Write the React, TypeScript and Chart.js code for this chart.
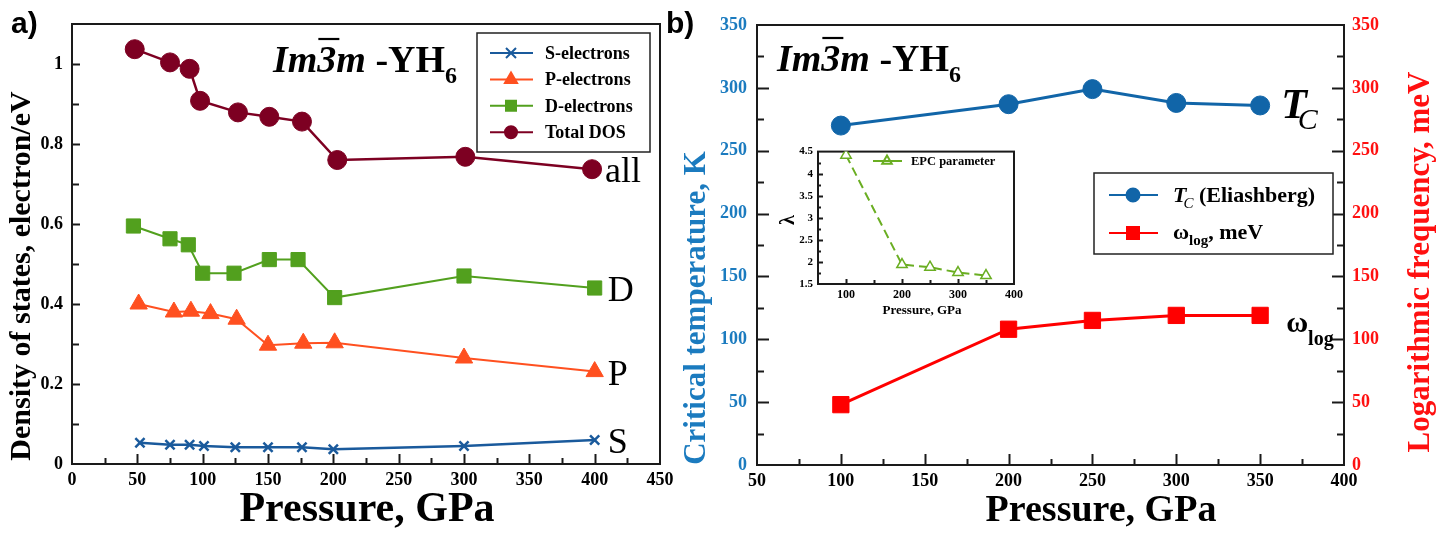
import React, { useEffect, useRef } from "react";
import { Chart, registerables } from "chart.js";

Chart.register(...registerables);

// ---------- Data: panel a (density of states) ----------
const sPressure = [52, 75, 90, 101, 125, 150, 176, 200, 300, 400];
const sElectrons = [0.053, 0.048, 0.048, 0.045, 0.042, 0.042, 0.042, 0.037, 0.045, 0.06];
const pPressure = [51, 78, 91, 106, 126, 150, 177, 201, 300, 400];
const pElectrons = [0.4, 0.38, 0.382, 0.376, 0.362, 0.297, 0.302, 0.303, 0.265, 0.231];
const dPressure = [47, 75, 89, 100, 124, 151, 173, 201, 300, 400];
const dElectrons = [0.595, 0.563, 0.548, 0.477, 0.477, 0.511, 0.511, 0.416, 0.47, 0.44];
const totalPressure = [48, 75, 90, 98, 127, 151, 176, 203, 301, 398];
const totalDos = [1.037, 1.004, 0.988, 0.908, 0.879, 0.868, 0.856, 0.76, 0.768, 0.737];

// ---------- Data: panel b ----------
const tcPressure = [100, 200, 250, 300, 350];
const tcEliashberg = [270, 287, 299, 288, 286];
const omegaPressure = [100, 200, 250, 300, 350];
const omegaLog = [48, 108, 115, 119, 119];

// ---------- Data: inset ----------
const epcPressure = [100, 200, 250, 300, 350];
const epcLambda = [4.42, 1.94, 1.88, 1.76, 1.69];

const legendA = ["S-electrons", "P-electrons", "D-electrons", "Total DOS"];

const SERIF = '"Liberation Serif", "Times New Roman", Times, serif';
const SANS = '"Liberation Sans", Arial, sans-serif';
const f = (size: number, weight = "bold", style = "normal") =>
  `${style} ${weight} ${size}px ${SERIF}`;

const C_S = "#1a5a9c";
const C_P = "#ff5020";
const C_D = "#52a01e";
const C_T = "#7d0022";
const C_TC = "#1165a8";
const C_W = "#ff0000";
const C_BLUE_TXT = "#1b7bbf";
const C_RED_TXT = "#ff1010";
const C_EPC = "#6aae22";
const AXIS = "#1a1a1a";

const zip = (xs: number[], ys: number[]) => xs.map((x, i) => ({ x, y: ys[i] }));

type Run = { t: string; font: string; dy?: number; dx?: number; over?: [number, number, number] };

function drawRich(ctx: CanvasRenderingContext2D, runs: Run[], x: number, y: number, color: string, align: "left" | "center" = "left") {
  ctx.save();
  ctx.fillStyle = color;
  ctx.strokeStyle = color;
  ctx.textBaseline = "alphabetic";
  ctx.textAlign = "left";
  let total = 0;
  for (const r of runs) {
    ctx.font = r.font;
    total += ctx.measureText(r.t).width + (r.dx || 0);
  }
  let cx = align === "center" ? x - total / 2 : x;
  for (const r of runs) {
    ctx.font = r.font;
    cx += r.dx || 0;
    ctx.fillText(r.t, cx, y + (r.dy || 0));
    const w = ctx.measureText(r.t).width;
    if (r.over) {
      ctx.lineWidth = 2.2;
      ctx.beginPath();
      ctx.moveTo(cx + r.over[0], y + r.over[2]);
      ctx.lineTo(cx + w + r.over[1], y + r.over[2]);
      ctx.stroke();
    }
    cx += w;
  }
  ctx.restore();
}

function drawRotated(ctx: CanvasRenderingContext2D, text: string, x: number, y: number, font: string, color: string) {
  ctx.save();
  ctx.translate(x, y);
  ctx.rotate(-Math.PI / 2);
  ctx.font = font;
  ctx.fillStyle = color;
  ctx.textAlign = "center";
  ctx.textBaseline = "middle";
  ctx.fillText(text, 0, 0);
  ctx.restore();
}

function drawMarker(ctx: CanvasRenderingContext2D, style: string, x: number, y: number, r: number, color: string, fill = true) {
  ctx.save();
  ctx.fillStyle = color;
  ctx.strokeStyle = color;
  ctx.lineWidth = 2;
  ctx.beginPath();
  if (style === "circle") {
    ctx.arc(x, y, r, 0, Math.PI * 2);
  } else if (style === "rect") {
    ctx.rect(x - r, y - r, 2 * r, 2 * r);
  } else if (style === "triangle") {
    ctx.moveTo(x, y - r);
    ctx.lineTo(x + r * 0.866, y + r * 0.5);
    ctx.lineTo(x - r * 0.866, y + r * 0.5);
    ctx.closePath();
  } else if (style === "crossRot") {
    ctx.moveTo(x - r, y - r);
    ctx.lineTo(x + r, y + r);
    ctx.moveTo(x + r, y - r);
    ctx.lineTo(x - r, y + r);
    ctx.stroke();
    ctx.restore();
    return;
  }
  if (fill) ctx.fill();
  ctx.stroke();
  ctx.restore();
}

type TickSpec = { scale: string; side: "left" | "right" | "bottom"; minor: number; major: number; majorLen: number; minorLen: number };

function framePlugin(id: string, ticks: TickSpec[], lw: number) {
  return {
    id,
    beforeDatasetsDraw(chart: any) {
      const { ctx, chartArea: a } = chart;
      ctx.save();
      ctx.strokeStyle = AXIS;
      ctx.lineWidth = lw;
      ctx.strokeRect(a.left, a.top, a.right - a.left, a.bottom - a.top);
      for (const t of ticks) {
        const s = chart.scales[t.scale];
        const n = Math.round((s.max - s.min) / t.minor);
        for (let i = 1; i < n; i++) {
          const v = s.min + i * t.minor;
          const q = v / t.major;
          const isMajor = Math.abs(q - Math.round(q)) < 1e-6;
          const len = isMajor ? t.majorLen : t.minorLen;
          const p = Math.round(s.getPixelForValue(v)) + 0.5;
          ctx.beginPath();
          if (t.side === "bottom") {
            ctx.moveTo(p, a.bottom);
            ctx.lineTo(p, a.bottom - len);
          } else if (t.side === "left") {
            ctx.moveTo(a.left, p);
            ctx.lineTo(a.left + len, p);
          } else {
            ctx.moveTo(a.right, p);
            ctx.lineTo(a.right - len, p);
          }
          ctx.stroke();
        }
      }
      ctx.restore();
    },
  };
}

const tickFont = (size: number) => ({ family: SERIF, size, weight: "bold" as const });
const fmt = (v: any) => String(Math.round(Number(v) * 100) / 100);

export default function App() {
  const refA = useRef<HTMLCanvasElement>(null);
  const refB = useRef<HTMLCanvasElement>(null);
  const refI = useRef<HTMLCanvasElement>(null);

  useEffect(() => {
    const charts: Chart[] = [];

    // ---------------- Panel a ----------------
    const OA = 0; // canvas page offset x
    const annotA = {
      id: "annotA",
      afterDraw(chart: any) {
        const ctx = chart.ctx as CanvasRenderingContext2D;
        const xs = chart.scales.x;
        const ys = chart.scales.y;
        ctx.save();
        ctx.font = `bold 30px ${SANS}`;
        ctx.fillStyle = "#000";
        ctx.fillText("a)", 11 - OA, 33);
        ctx.restore();
        drawRich(ctx, [
          { t: "Im", font: f(38, "bold", "italic") },
          { t: "3", font: f(38, "bold", "italic"), over: [1, 3, -33] },
          { t: "m", font: f(38, "bold", "italic") },
          { t: " -YH", font: f(38) },
          { t: "6", font: f(24), dy: 11 },
        ], 273 - OA, 72, "#000");
        const lab = (txt: string, px: number, py: number) => {
          ctx.save();
          ctx.font = f(36, "normal");
          ctx.fillStyle = "#000";
          ctx.fillText(txt, xs.getPixelForValue(px) + 13, ys.getPixelForValue(py) + 13);
          ctx.restore();
        };
        lab("all", totalPressure[totalPressure.length - 1], totalDos[totalDos.length - 1]);
        lab("D", dPressure[dPressure.length - 1], dElectrons[dElectrons.length - 1]);
        lab("P", pPressure[pPressure.length - 1], pElectrons[pElectrons.length - 1]);
        lab("S", sPressure[sPressure.length - 1], sElectrons[sElectrons.length - 1]);
        drawRich(ctx, [{ t: "Pressure, GPa", font: f(42) }], 367 - OA, 521, "#000", "center");
        drawRotated(ctx, "Density of states, electron/eV", 22 - OA, 276, f(30), "#000");
        // legend
        ctx.save();
        ctx.fillStyle = "#fff";
        ctx.strokeStyle = "#222";
        ctx.lineWidth = 1.5;
        ctx.fillRect(477, 33, 173, 119);
        ctx.strokeRect(477, 33, 173, 119);
        const styles = ["crossRot", "triangle", "rect", "circle"];
        const colors = [C_S, C_P, C_D, C_T];
        const sizes = [5, 7, 5, 6];
        legendA.forEach((name, i) => {
          const y = 53 + i * 26.4;
          ctx.strokeStyle = colors[i];
          ctx.lineWidth = 2;
          ctx.beginPath();
          ctx.moveTo(490, y);
          ctx.lineTo(533, y);
          ctx.stroke();
          drawMarker(ctx, styles[i], 511, y, sizes[i], colors[i]);
          ctx.font = f(18);
          ctx.fillStyle = "#000";
          ctx.fillText(name, 545, y + 6);
        });
        ctx.restore();
      },
    };

    const ca = new Chart(refA.current!, {
      type: "scatter",
      data: {
        datasets: [
          {
            label: "S-electrons", data: zip(sPressure, sElectrons), showLine: true,
            borderColor: C_S, backgroundColor: C_S, borderWidth: 2.5,
            pointStyle: "crossRot", pointRadius: 6.5, pointBorderWidth: 2.5,
          },
          {
            label: "P-electrons", data: zip(pPressure, pElectrons), showLine: true,
            borderColor: C_P, backgroundColor: C_P, borderWidth: 2,
            pointStyle: "triangle", pointRadius: 10, pointBorderWidth: 1,
          },
          {
            label: "D-electrons", data: zip(dPressure, dElectrons), showLine: true,
            borderColor: C_D, backgroundColor: C_D, borderWidth: 2,
            pointStyle: "rect", pointRadius: 10, pointBorderWidth: 1,
          },
          {
            label: "Total DOS", data: zip(totalPressure, totalDos), showLine: true,
            borderColor: C_T, backgroundColor: C_T, borderWidth: 2.5,
            pointStyle: "circle", pointRadius: 9.5, pointBorderWidth: 1,
          },
        ],
      },
      options: {
        animation: false,
        responsive: false,
        layout: { padding: { left: 0, right: 60, top: 24, bottom: 0 } },
        plugins: { legend: { display: false }, tooltip: { enabled: false } },
        scales: {
          x: {
            type: "linear", min: 0, max: 450,
            grid: { display: false, drawTicks: false }, border: { display: false },
            ticks: { stepSize: 50, font: tickFont(18), color: "#000", padding: 6, callback: fmt, maxRotation: 0 },
            afterFit: (s: any) => { s.height = 74; },
          },
          y: {
            type: "linear", min: 0, max: 1.1,
            grid: { display: false, drawTicks: false }, border: { display: false },
            ticks: { stepSize: 0.2, includeBounds: false, font: tickFont(18), color: "#000", padding: 9, callback: fmt },
            afterFit: (s: any) => { s.width = 72; },
          },
        },
      },
      plugins: [
        framePlugin("frameA", [
          { scale: "x", side: "bottom", minor: 25, major: 50, majorLen: 10, minorLen: 6 },
          { scale: "y", side: "left", minor: 0.1, major: 0.2, majorLen: 8, minorLen: 7 },
        ], 2),
        annotA,
      ],
    } as any);
    charts.push(ca);

    // ---------------- Panel b ----------------
    const OB = 720;
    const annotB = {
      id: "annotB",
      afterDraw(chart: any) {
        const ctx = chart.ctx as CanvasRenderingContext2D;
        const xs = chart.scales.x;
        const yl = chart.scales.y;
        const yr = chart.scales.y1;
        drawRich(ctx, [
          { t: "Im", font: f(38, "bold", "italic") },
          { t: "3", font: f(38, "bold", "italic"), over: [1, 3, -33] },
          { t: "m", font: f(38, "bold", "italic") },
          { t: " -YH", font: f(38) },
          { t: "6", font: f(24), dy: 11 },
        ], 777 - OB, 71, "#000");
        const tx = xs.getPixelForValue(tcPressure[tcPressure.length - 1]);
        const ty = yl.getPixelForValue(tcEliashberg[tcEliashberg.length - 1]);
        drawRich(ctx, [
          { t: "T", font: f(42, "bold", "italic") },
          { t: "C", font: f(30, "normal", "italic"), dy: 11, dx: -9 },
        ], tx + 21, ty + 13, "#000");
        const wx = xs.getPixelForValue(omegaPressure[omegaPressure.length - 1]);
        const wy = yr.getPixelForValue(omegaLog[omegaLog.length - 1]);
        drawRich(ctx, [
          { t: "\u03c9", font: f(30) },
          { t: "log", font: f(20), dy: 13 },
        ], wx + 26, wy + 17, "#000");
        drawRich(ctx, [{ t: "Pressure, GPa", font: f(38) }], 1101 - OB, 521, "#000", "center");
        drawRotated(ctx, "Logarithmic frequency, meV", 1421 - OB, 262, f(31), C_RED_TXT);
        // legend
        ctx.save();
        const lx = 1094 - OB;
        ctx.fillStyle = "#fff";
        ctx.strokeStyle = "#222";
        ctx.lineWidth = 1.5;
        ctx.fillRect(lx, 173, 239, 81);
        ctx.strokeRect(lx, 173, 239, 81);
        const rows = [
          { y: 195, color: C_TC, style: "circle", r: 6.5 },
          { y: 233, color: C_W, style: "rect", r: 6 },
        ];
        rows.forEach((row) => {
          ctx.strokeStyle = row.color;
          ctx.lineWidth = 2;
          ctx.beginPath();
          ctx.moveTo(1109 - OB, row.y);
          ctx.lineTo(1158 - OB, row.y);
          ctx.stroke();
          drawMarker(ctx, row.style, 1133 - OB, row.y, row.r, row.color);
        });
        ctx.restore();
        drawRich(ctx, [
          { t: "T", font: f(22, "bold", "italic") },
          { t: "C", font: f(15, "normal", "italic"), dy: 6, dx: -3 },
          { t: " (Eliashberg)", font: f(22) },
        ], 1173 - OB, 202, "#000");
        drawRich(ctx, [
          { t: "\u03c9", font: f(22) },
          { t: "log", font: f(15), dy: 6 },
          { t: ", meV", font: f(22) },
        ], 1173 - OB, 239, "#000");
      },
    };

    // labels in the gap between panels (drawn on panel a canvas area is too narrow, use panel b's left strip)
    const gapB = {
      id: "gapB",
      afterDraw(chart: any) {
        const ctx = chart.ctx as CanvasRenderingContext2D;
        ctx.save();
        ctx.font = `bold 30px ${SANS}`;
        ctx.fillStyle = "#000";
        ctx.fillText("b)", 666 - 660, 33);
        ctx.restore();
        drawRotated(ctx, "Critical temperature, K", 697 - 660, 308, f(31), C_BLUE_TXT);
      },
    };

    const cb = new Chart(refB.current!, {
      type: "scatter",
      data: {
        datasets: [
          {
            label: "Tc (Eliashberg)", data: zip(tcPressure, tcEliashberg), showLine: true, yAxisID: "y",
            borderColor: C_TC, backgroundColor: C_TC, borderWidth: 3,
            pointStyle: "circle", pointRadius: 9.5, pointBorderWidth: 1,
          },
          {
            label: "omega_log, meV", data: zip(omegaPressure, omegaLog), showLine: true, yAxisID: "y1",
            borderColor: C_W, backgroundColor: C_W, borderWidth: 3,
            pointStyle: "rect", pointRadius: 11.5, pointBorderWidth: 1,
          },
        ],
      },
      options: {
        animation: false,
        responsive: false,
        layout: { padding: { left: 0, right: 0, top: 25, bottom: 0 } },
        plugins: { legend: { display: false }, tooltip: { enabled: false } },
        scales: {
          x: {
            type: "linear", min: 50, max: 400,
            grid: { display: false, drawTicks: false }, border: { display: false },
            ticks: { stepSize: 50, font: tickFont(18), color: "#000", padding: 6, callback: fmt, maxRotation: 0 },
            afterFit: (s: any) => { s.height = 73; },
          },
          y: {
            type: "linear", position: "left", min: 0, max: 350,
            grid: { display: false, drawTicks: false }, border: { display: false },
            ticks: { stepSize: 50, font: tickFont(18), color: C_BLUE_TXT, padding: 10, callback: fmt },
            afterFit: (s: any) => { s.width = 37; },
          },
          y1: {
            type: "linear", position: "right", min: 0, max: 350,
            grid: { display: false, drawTicks: false }, border: { display: false },
            ticks: { stepSize: 50, font: tickFont(18), color: C_RED_TXT, padding: 8, callback: fmt },
            afterFit: (s: any) => { s.width = 101; },
          },
        },
      },
      plugins: [
        framePlugin("frameB", [
          { scale: "x", side: "bottom", minor: 25, major: 50, majorLen: 11, minorLen: 6 },
          { scale: "y", side: "left", minor: 25, major: 50, majorLen: 12, minorLen: 7 },
          { scale: "y1", side: "right", minor: 25, major: 50, majorLen: 12, minorLen: 7 },
        ], 2),
        annotB,
      ],
    } as any);
    charts.push(cb);

    // small strip canvas for the gap text (b) label and left title of panel b)
    const cg = new Chart(refG.current!, {
      type: "scatter",
      data: { datasets: [] },
      options: {
        animation: false,
        responsive: false,
        plugins: { legend: { display: false }, tooltip: { enabled: false } },
        scales: { x: { display: false }, y: { display: false } },
      },
      plugins: [gapB],
    } as any);
    charts.push(cg);

    // ---------------- Inset ----------------
    const OIX = 775;
    const OIY = 140;
    const annotI = {
      id: "annotI",
      afterDraw(chart: any) {
        const ctx = chart.ctx as CanvasRenderingContext2D;
        drawRich(ctx, [{ t: "Pressure, GPa", font: f(13) }], 922 - OIX, 314 - OIY, "#000", "center");
        drawRotated(ctx, "\u03bb", 789 - OIX, 220 - OIY, f(20), "#000");
        ctx.save();
        ctx.strokeStyle = C_EPC;
        ctx.lineWidth = 2;
        ctx.beginPath();
        ctx.moveTo(873 - OIX, 161 - OIY);
        ctx.lineTo(902 - OIX, 161 - OIY);
        ctx.stroke();
        drawMarker(ctx, "triangle", 887 - OIX, 161 - OIY, 5.5, C_EPC, false);
        ctx.font = f(12.5);
        ctx.fillStyle = "#000";
        ctx.fillText("EPC parameter", 911 - OIX, 165 - OIY);
        ctx.restore();
      },
    };
    const ci = new Chart(refI.current!, {
      type: "scatter",
      data: {
        datasets: [
          {
            label: "EPC parameter", data: zip(epcPressure, epcLambda), showLine: true,
            borderColor: C_EPC, backgroundColor: "#ffffff", borderWidth: 2, borderDash: [9, 5],
            pointStyle: "triangle", pointRadius: 6, pointBorderWidth: 1.5, pointBorderColor: C_EPC,
          },
        ],
      },
      options: {
        animation: false,
        responsive: false,
        layout: { padding: { left: 0, right: 21, top: 8, bottom: 0 } },
        plugins: { legend: { display: false }, tooltip: { enabled: false } },
        scales: {
          x: {
            type: "linear", min: 50, max: 400,
            grid: { display: false, drawTicks: false }, border: { display: false },
            ticks: { stepSize: 100, includeBounds: false, font: tickFont(12), color: "#000", padding: 4, callback: fmt, maxRotation: 0 },
            afterFit: (s: any) => { s.height = 41; },
          },
          y: {
            type: "linear", min: 1.5, max: 4.5,
            grid: { display: false, drawTicks: false }, border: { display: false },
            ticks: { stepSize: 0.5, font: tickFont(11), color: "#000", padding: 5, callback: fmt },
            afterFit: (s: any) => { s.width = 43; },
          },
        },
      },
      plugins: [
        framePlugin("frameI", [
          { scale: "x", side: "bottom", minor: 50, major: 100, majorLen: 5, minorLen: 4 },
          { scale: "y", side: "left", minor: 0.25, major: 0.5, majorLen: 5, minorLen: 3 },
        ], 2),
        annotI,
      ],
    } as any);
    charts.push(ci);

    return () => charts.forEach((c) => c.destroy());
  }, []);

  const refG = useRef<HTMLCanvasElement>(null);

  return (
    <div style={{ position: "absolute", left: 0, top: 0, width: 1445, height: 538, background: "#fff", overflow: "hidden" }}>
      <canvas ref={refA} width={720} height={538} style={{ position: "absolute", left: 0, top: 0, width: 720, height: 538 }} />
      <canvas ref={refB} width={725} height={538} style={{ position: "absolute", left: 720, top: 0, width: 725, height: 538 }} />
      <canvas ref={refG} width={56} height={538} style={{ position: "absolute", left: 660, top: 0, width: 56, height: 538 }} />
      <canvas ref={refI} width={260} height={185} style={{ position: "absolute", left: 775, top: 140, width: 260, height: 185 }} />
    </div>
  );
}
